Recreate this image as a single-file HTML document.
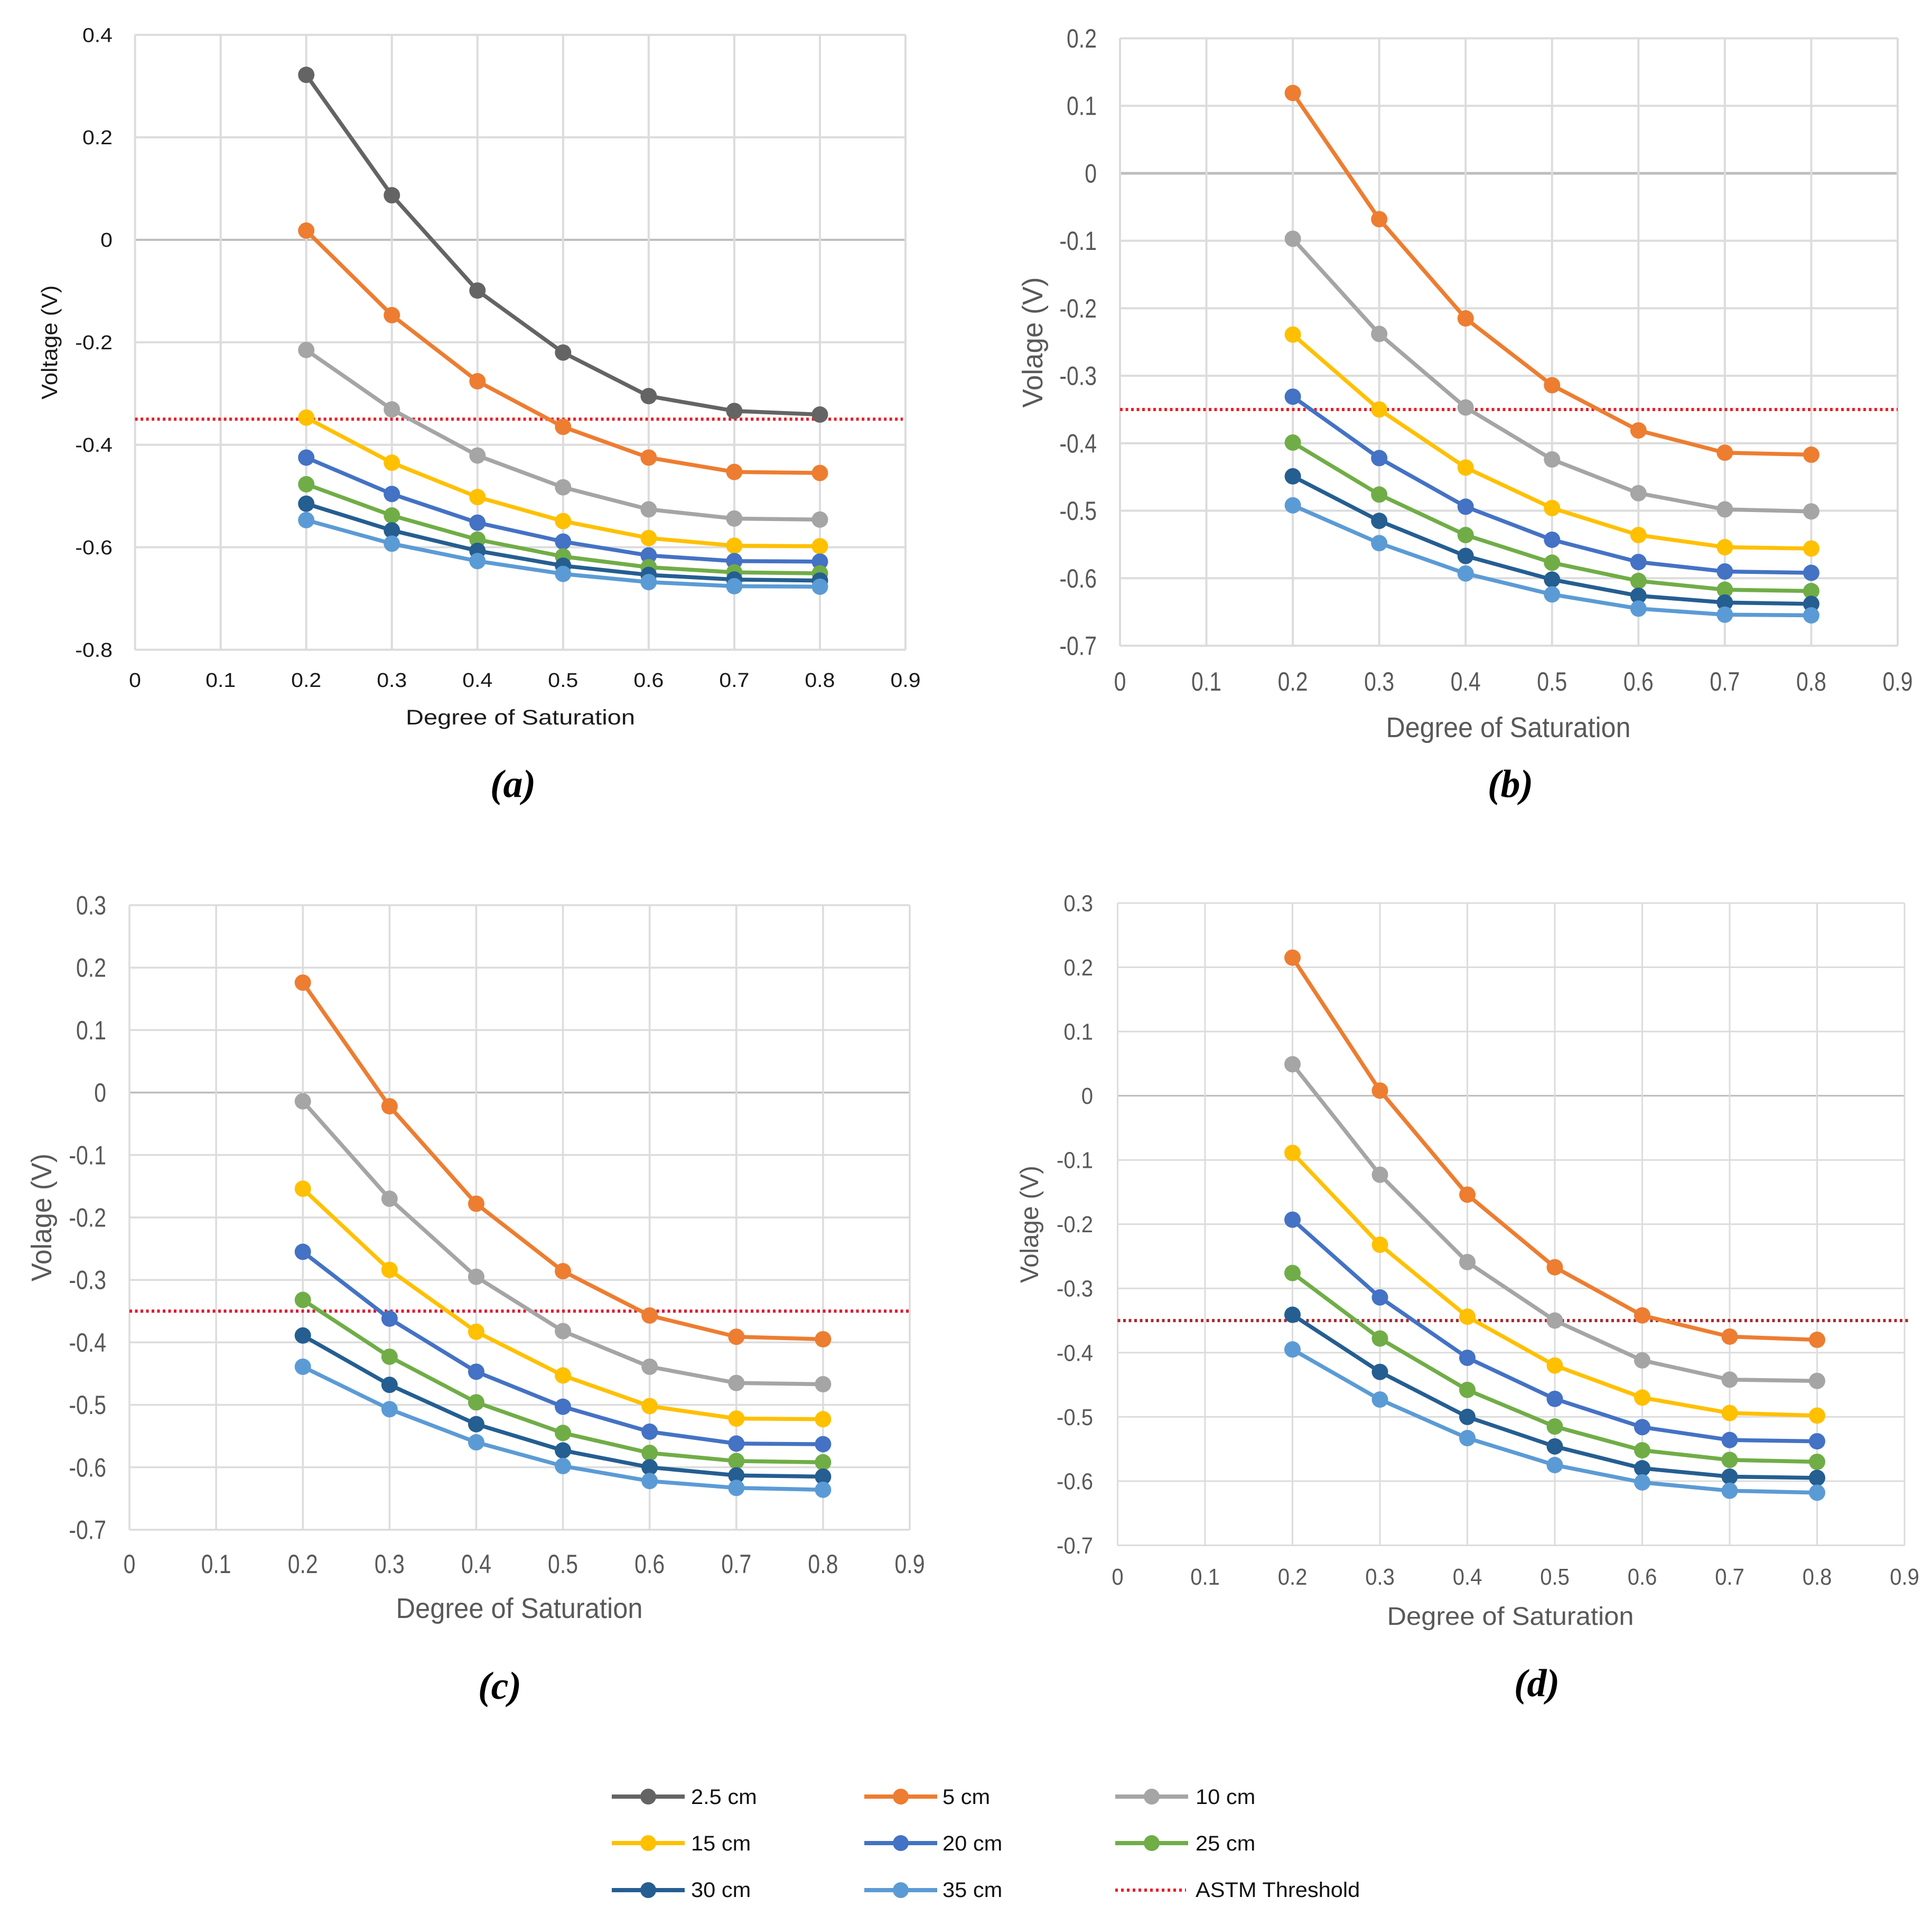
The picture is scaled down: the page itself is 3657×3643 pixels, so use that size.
<!DOCTYPE html>
<html lang="en">
<head>
<meta charset="utf-8">
<title>Voltage vs Degree of Saturation</title>
<style>
html,body{margin:0;padding:0;background:#fff;}
svg{display:block;font-family:"Liberation Sans",sans-serif;}
</style>
</head>
<body>
<svg id="figure" xmlns="http://www.w3.org/2000/svg" width="3657" height="3643" viewBox="0 0 3657 3643">
<rect width="3657" height="3643" fill="#ffffff"/>
</svg>
<script>
const xCategories = [0.2, 0.3, 0.4, 0.5, 0.6, 0.7, 0.8];
const xTickValues = [0, 0.1, 0.2, 0.3, 0.4, 0.5, 0.6, 0.7, 0.8, 0.9];
const thresholdValue = -0.35;

const seriesNames = ['2.5 cm', '5 cm', '10 cm', '15 cm', '20 cm', '25 cm', '30 cm', '35 cm'];
const seriesColors = ['#636463', '#ed7d31', '#a5a5a5', '#ffc000', '#4472c4', '#70ad47', '#255e91', '#5b9bd5'];

const yTicksA = [0.4, 0.2, 0, -0.2, -0.4, -0.6, -0.8];
const yTicksB = [0.2, 0.1, 0, -0.1, -0.2, -0.3, -0.4, -0.5, -0.6, -0.7];
const yTicksC = [0.3, 0.2, 0.1, 0, -0.1, -0.2, -0.3, -0.4, -0.5, -0.6, -0.7];
const yTicksD = [0.3, 0.2, 0.1, 0, -0.1, -0.2, -0.3, -0.4, -0.5, -0.6, -0.7];

const panelA25 = [0.322, 0.087, -0.099, -0.220, -0.305, -0.334, -0.341];
const panelA5 = [0.018, -0.147, -0.276, -0.365, -0.425, -0.453, -0.455];
const panelA10 = [-0.215, -0.331, -0.421, -0.483, -0.526, -0.544, -0.546];
const panelA15 = [-0.347, -0.435, -0.502, -0.549, -0.582, -0.597, -0.598];
const panelA20 = [-0.425, -0.496, -0.552, -0.589, -0.616, -0.627, -0.628];
const panelA25cm = [-0.477, -0.538, -0.585, -0.618, -0.639, -0.649, -0.651];
const panelA30 = [-0.515, -0.567, -0.607, -0.636, -0.654, -0.663, -0.665];
const panelA35 = [-0.547, -0.593, -0.627, -0.652, -0.668, -0.676, -0.677];

const panelB5 = [0.119, -0.068, -0.215, -0.314, -0.381, -0.414, -0.417];
const panelB10 = [-0.097, -0.238, -0.347, -0.424, -0.474, -0.498, -0.501];
const panelB15 = [-0.239, -0.350, -0.436, -0.496, -0.536, -0.554, -0.556];
const panelB20 = [-0.331, -0.422, -0.494, -0.543, -0.576, -0.590, -0.592];
const panelB25 = [-0.399, -0.476, -0.536, -0.577, -0.604, -0.617, -0.619];
const panelB30 = [-0.449, -0.515, -0.567, -0.602, -0.626, -0.636, -0.638];
const panelB35 = [-0.492, -0.548, -0.593, -0.624, -0.645, -0.654, -0.655];

const panelC5 = [0.176, -0.022, -0.178, -0.286, -0.357, -0.391, -0.395];
const panelC10 = [-0.014, -0.170, -0.295, -0.382, -0.439, -0.465, -0.467];
const panelC15 = [-0.154, -0.284, -0.383, -0.453, -0.502, -0.522, -0.523];
const panelC20 = [-0.255, -0.362, -0.447, -0.503, -0.543, -0.562, -0.563];
const panelC25 = [-0.332, -0.423, -0.496, -0.545, -0.577, -0.590, -0.592];
const panelC30 = [-0.389, -0.468, -0.531, -0.573, -0.600, -0.613, -0.615];
const panelC35 = [-0.439, -0.507, -0.560, -0.598, -0.622, -0.633, -0.636];

const panelD5 = [0.215, 0.008, -0.154, -0.267, -0.342, -0.375, -0.380];
const panelD10 = [0.049, -0.123, -0.259, -0.350, -0.412, -0.442, -0.444];
const panelD15 = [-0.089, -0.232, -0.344, -0.420, -0.470, -0.494, -0.498];
const panelD20 = [-0.193, -0.314, -0.408, -0.472, -0.516, -0.536, -0.538];
const panelD25 = [-0.276, -0.378, -0.458, -0.515, -0.552, -0.567, -0.570];
const panelD30 = [-0.341, -0.430, -0.500, -0.546, -0.580, -0.593, -0.595];
const panelD35 = [-0.395, -0.473, -0.533, -0.575, -0.602, -0.615, -0.618];

const NS = 'http://www.w3.org/2000/svg';
const root = document.getElementById('figure');

function make(parent, tag, attrs, text) {
  const node = document.createElementNS(NS, tag);
  for (const key in attrs) node.setAttribute(key, attrs[key]);
  if (text !== undefined) node.textContent = text;
  parent.appendChild(node);
  return node;
}

function drawPanel(cfg) {
  const xScale = v => cfg.left + (v - 0) / 0.9 * (cfg.right - cfg.left);
  const yMax = cfg.yTicks[0];
  const yMin = cfg.yTicks[cfg.yTicks.length - 1];
  const yScale = v => cfg.top + (yMax - v) / (yMax - yMin) * (cfg.bottom - cfg.top);

  const panel = make(root, 'g', {});
  
  

  cfg.yTicks.forEach(v => {
    const grid = make(panel, 'line', {
      x1: cfg.left, x2: cfg.right, y1: yScale(v), y2: yScale(v),
      stroke: v === 0 ? '#bdbdbd' : '#dcdcdc',
      'stroke-width': v === 0 ? cfg.zeroWidth : cfg.gridWidth
    });
    
    
    const label = make(panel, 'text', {
      transform: 'translate(' + cfg.yLabelX + ',' + (yScale(v) + cfg.font * 0.35) + ') scale(' + cfg.sx + ',1)',
      'text-anchor': 'end', 'font-size': cfg.font, fill: cfg.textColor
    }, String(v));
    
    
  });

  xTickValues.forEach(v => {
    const grid = make(panel, 'line', {
      x1: xScale(v), x2: xScale(v), y1: cfg.top, y2: cfg.bottom,
      stroke: '#dcdcdc', 'stroke-width': cfg.gridWidth
    });
    
    
    const label = make(panel, 'text', {
      transform: 'translate(' + xScale(v) + ',' + cfg.xLabelY + ') scale(' + cfg.sx + ',1)',
      'text-anchor': 'middle', 'font-size': cfg.font, fill: cfg.textColor
    }, String(v));
    
    
  });

  const threshold = make(panel, 'line', {
    x1: xScale(0), x2: xScale(cfg.thresholdEnd), y1: yScale(thresholdValue), y2: yScale(thresholdValue),
    stroke: cfg.thresholdColor, 'stroke-width': 6, 'stroke-dasharray': '5 5.5'
  });
  
  

  cfg.series.forEach(s => {
    const name = seriesNames[s.index];
    const color = seriesColors[s.index];
    const group = make(panel, 'g', {});
    
    
    const points = s.values.map((v, i) => xScale(xCategories[i]) + ',' + yScale(v)).join(' ');
    const line = make(group, 'polyline', {
      points: points, fill: 'none', stroke: color, 'stroke-width': 7.5, 'stroke-linejoin': 'round'
    });
    
    
    s.values.forEach((v, i) => {
      const dot = make(group, 'circle', {
        cx: xScale(xCategories[i]), cy: yScale(v), r: 15.5, fill: color
      });
      
      
    });
  });

  const xTitle = make(panel, 'text', {
    x: cfg.xTitle.x, y: cfg.xTitle.y, 'text-anchor': 'middle', 'font-size': cfg.titleFont, fill: cfg.titleColor,
    textLength: cfg.xTitle.len, lengthAdjust: 'spacingAndGlyphs'
  }, 'Degree of Saturation');
  
  

  const yTitle = make(panel, 'text', {
    transform: 'translate(' + cfg.yTitle.x + ',' + cfg.yTitle.y + ') rotate(-90)',
    'text-anchor': 'middle', 'font-size': cfg.yTitleFont, fill: cfg.titleColor,
    textLength: cfg.yTitle.len, lengthAdjust: 'spacingAndGlyphs'
  }, cfg.yTitle.text);
  
  

  const caption = make(panel, 'text', {
    x: cfg.caption.x, y: cfg.caption.y, 'text-anchor': 'middle', 'font-size': 74,
    'font-family': '"Liberation Serif",serif', 'font-style': 'italic', 'font-weight': 'bold', fill: '#000000'
  }, '(' + cfg.id + ')');
  
  
}

drawPanel({
  id: 'a', left: 255.6, right: 1714, top: 66, bottom: 1229.6,
  yTicks: yTicksA, font: 38, sx: 1.08, titleFont: 40, yTitleFont: 42,
  textColor: '#1a1a1a', titleColor: '#1a1a1a',
  yLabelX: 213, xLabelY: 1300, gridWidth: 4, zeroWidth: 4,
  thresholdEnd: 0.897, thresholdColor: '#ee1c25',
  xTitle: {x: 985, y: 1371, len: 434},
  yTitle: {x: 108, y: 648, len: 216, text: 'Voltage (V)'},
  caption: {x: 971, y: 1508},
  series: [
    {index: 0, values: panelA25}, {index: 1, values: panelA5}, {index: 2, values: panelA10},
    {index: 3, values: panelA15}, {index: 4, values: panelA20}, {index: 5, values: panelA25cm},
    {index: 6, values: panelA30}, {index: 7, values: panelA35}
  ]
});

drawPanel({
  id: 'b', left: 2120, right: 3592, top: 72.5, bottom: 1222,
  yTicks: yTicksB, font: 50, sx: 0.82, titleFont: 54, yTitleFont: 54,
  textColor: '#595959', titleColor: '#595959',
  yLabelX: 2076, xLabelY: 1307, gridWidth: 4, zeroWidth: 5,
  thresholdEnd: 0.9, thresholdColor: '#ee1c25',
  xTitle: {x: 2855, y: 1395, len: 463},
  yTitle: {x: 1973, y: 648, len: 247, text: 'Volage (V)'},
  caption: {x: 2859, y: 1508},
  series: [
    {index: 1, values: panelB5}, {index: 2, values: panelB10}, {index: 3, values: panelB15},
    {index: 4, values: panelB20}, {index: 5, values: panelB25}, {index: 6, values: panelB30},
    {index: 7, values: panelB35}
  ]
});

drawPanel({
  id: 'c', left: 245, right: 1722, top: 1713, bottom: 2895,
  yTicks: yTicksC, font: 50, sx: 0.82, titleFont: 54, yTitleFont: 54,
  textColor: '#595959', titleColor: '#595959',
  yLabelX: 201, xLabelY: 2977, gridWidth: 3.5, zeroWidth: 3.5,
  thresholdEnd: 0.9, thresholdColor: '#e0152f',
  xTitle: {x: 983, y: 3062, len: 467},
  yTitle: {x: 97, y: 2304, len: 242, text: 'Volage (V)'},
  caption: {x: 946, y: 3215},
  series: [
    {index: 1, values: panelC5}, {index: 2, values: panelC10}, {index: 3, values: panelC15},
    {index: 4, values: panelC20}, {index: 5, values: panelC25}, {index: 6, values: panelC30},
    {index: 7, values: panelC35}
  ]
});

drawPanel({
  id: 'd', left: 2115.5, right: 3605, top: 1709, bottom: 2924.5,
  yTicks: yTicksD, font: 44, sx: 0.91, titleFont: 48, yTitleFont: 48,
  textColor: '#595959', titleColor: '#595959',
  yLabelX: 2069, xLabelY: 2999, gridWidth: 3, zeroWidth: 3,
  thresholdEnd: 0.905, thresholdColor: '#a8282e',
  xTitle: {x: 2859, y: 3075, len: 467},
  yTitle: {x: 1965, y: 2317, len: 222, text: 'Volage (V)'},
  caption: {x: 2909, y: 3210},
  series: [
    {index: 1, values: panelD5}, {index: 2, values: panelD10}, {index: 3, values: panelD15},
    {index: 4, values: panelD20}, {index: 5, values: panelD25}, {index: 6, values: panelD30},
    {index: 7, values: panelD35}
  ]
});

const legend = make(root, 'g', {});



function legendEntry(col, row, name, color) {
  const handleX = [1158, 1636, 2111][col];
  const textX = [1308, 1784, 2263][col];
  const centerY = [3400, 3488, 3577][row];
  const baseY = [3414, 3502, 3590][row];
  const entry = make(legend, 'g', {});
  
  
  if (color) {
    const swatch = make(entry, 'line', {x1: handleX, x2: handleX + 138, y1: centerY, y2: centerY, stroke: color, 'stroke-width': 8});
    
    
    const dot = make(entry, 'circle', {cx: handleX + 69, cy: centerY, r: 15, fill: color});
    
    
  } else {
    const swatch = make(entry, 'line', {x1: handleX, x2: handleX + 134, y1: centerY, y2: centerY, stroke: '#ee1c25', 'stroke-width': 6, 'stroke-dasharray': '5 6'});
    
    
  }
  const label = make(entry, 'text', {
    transform: 'translate(' + textX + ',' + baseY + ') scale(1.04,1)', 'font-size': 40, fill: '#111111'
  }, name);
  
  
}

seriesNames.forEach((name, i) => legendEntry(i % 3, Math.floor(i / 3), name, seriesColors[i]));
legendEntry(2, 2, 'ASTM Threshold', null);
</script>
</body>
</html>
